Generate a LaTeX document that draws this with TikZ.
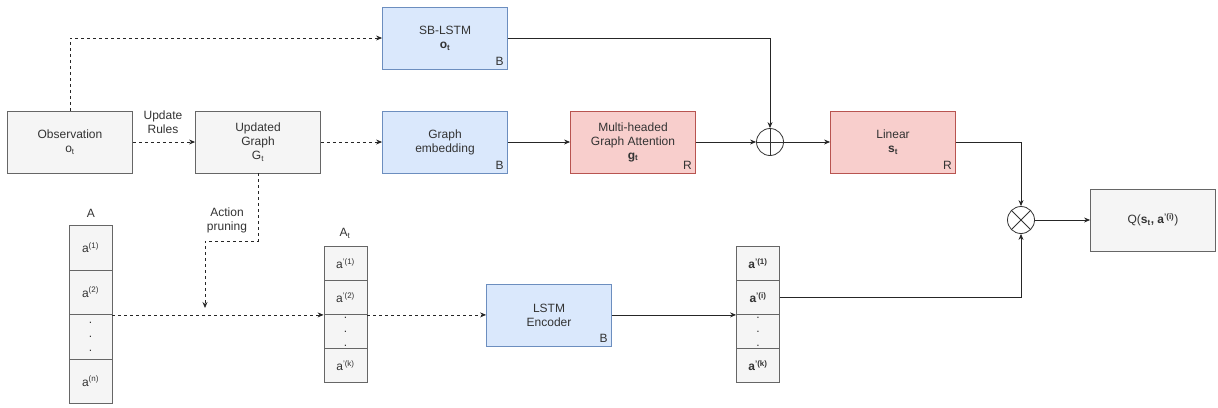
\documentclass[tikz,border=0pt]{standalone}
\usepackage{fontspec}
\setmainfont{Liberation Sans}
\usetikzlibrary{arrows.meta}
\definecolor{txtgray}{HTML}{333333}
\definecolor{grayline}{HTML}{666666}
\definecolor{grayfill}{HTML}{F5F5F5}
\definecolor{blueline}{HTML}{6C8EBF}
\definecolor{bluefill}{HTML}{DAE8FC}
\definecolor{redline}{HTML}{B85450}
\definecolor{redfill}{HTML}{F8CECC}
\begin{document}
\begin{tikzpicture}[x=1pt,y=-1pt,>={Stealth[length=6pt,width=5pt]},
 font=\fontsize{12}{14}\selectfont,text=txtgray,
 box/.style={draw=grayline,fill=grayfill,minimum width=125pt,minimum height=62pt,align=center,line width=0.8pt},
 bluebox/.style={box,draw=blueline,fill=bluefill},
 redbox/.style={box,draw=redline,fill=redfill},
 cell/.style={draw=grayline,fill=grayfill,minimum width=43pt,inner sep=0pt,align=center,line width=0.8pt},
 op/.style={draw=black!80,circle,minimum size=27pt,inner sep=0pt,line width=0.8pt},
 tag/.style={anchor=south east,inner sep=4pt},
 flow/.style={->,line width=0.8pt,draw=black!85},
 dflow/.style={flow,dash pattern=on 3pt off 3pt}]
\useasboundingbox (0,0) rectangle (1218,407);
% top row
\node[box] (obs) at (70,142) {Observation\\o\textsubscript{t}};
\node[box] (upd) at (258,142) {Updated\\Graph\\G\textsubscript{t}};
\node[bluebox] (sblstm) at (445,38) {SB-LSTM\\\textbf{o\textsubscript{t}}};
\node[bluebox] (gemb) at (445,142) {Graph\\embedding};
\node[redbox] (mha) at (633,142) {Multi-headed\\Graph Attention\\\textbf{g\textsubscript{t}}};
\node[op] (plus) at (770,142) {};
\node[redbox] (lin) at (893,142) {Linear\\\textbf{s\textsubscript{t}}};
\node[op] (times) at (1021,220) {};
\node[box] (q) at (1153,220) {Q(\textbf{s\textsubscript{t},} \textbf{a\textsuperscript{'(i)}})};
\node[tag] at (sblstm.south east) {B};
\node[tag] at (gemb.south east) {B};
\node[tag] at (mha.south east) {R};
\node[tag] at (lin.south east) {R};
\draw[line width=0.8pt,black!80] (plus.north) -- (plus.south) (plus.west) -- (plus.east);
\draw[line width=0.8pt,black!80] (times.north east) -- (times.south west) (times.north west) -- (times.south east);
% action lists
\node (albl) at (91,213) {A};
\node[cell,minimum height=44.5pt] (a1) at (90.5,247.75) {a\textsuperscript{(1)}};
\node[cell,minimum height=44.5pt] (a2) at (90.5,292.25) {a\textsuperscript{(2)}};
\node[cell,minimum height=44.5pt] (a3) at (90.5,336.75) {.\\.\\.};
\node[cell,minimum height=44.5pt] (a4) at (90.5,381.25) {a\textsuperscript{(n)}};
\node (blbl) at (345,233) {A\textsubscript{t}};
\node[cell,minimum height=34pt] (b1) at (345.5,263.5) {a\textsuperscript{'(1)}};
\node[cell,minimum height=34pt] (b2) at (345.5,297.5) {a\textsuperscript{'(2)}};
\node[cell,minimum height=34pt] (b3) at (345.5,331.5) {.\\.\\.};
\node[cell,minimum height=34pt] (b4) at (345.5,365.5) {a\textsuperscript{'(k)}};
\node[bluebox] (enc) at (549,314.9) {LSTM\\Encoder};
\node[tag] at (enc.south east) {B};
\node[cell,minimum height=34pt] (c1) at (758,263.5) {\textbf{a\textsuperscript{'(1)}}};
\node[cell,minimum height=34pt] (c2) at (758,297.5) {\textbf{a\textsuperscript{'(i)}}};
\node[cell,minimum height=34pt] (c3) at (758,331.5) {.\\.\\.};
\node[cell,minimum height=34pt] (c4) at (758,365.5) {\textbf{a\textsuperscript{'(k)}}};
% labels
\node[align=center] (rules) at (163,122) {Update\\Rules};
\node[align=center] (prunelbl) at (227,220) {Action\\pruning};
\coordinate (kink) at (205,241);
\coordinate (prune) at (205,308);
% connectors
\draw[dflow] (obs.north) |- (sblstm.west);
\draw[dflow] (obs.east) -- (upd.west);
\draw[dflow] (upd.east) -- (gemb.west);
\draw[flow] (gemb.east) -- (mha.west);
\draw[flow] (mha.east) -- (plus.west);
\draw[flow] (sblstm.east) -| (plus.north);
\draw[flow] (plus.east) -- (lin.west);
\draw[flow] (lin.east) -| (times.north);
\draw[flow] (times.east) -- (q.west);
\draw[dflow] (upd.south) |- (kink) -- (prune);
\draw[dflow] (a2.south east) -- (b2.south west);
\draw[dflow] (b2.south east) -- (enc.west);
\draw[flow] (enc.east) -- (c2.south west);
\draw[flow] (c2.east) -| (times.south);
\end{tikzpicture}
\end{document}
